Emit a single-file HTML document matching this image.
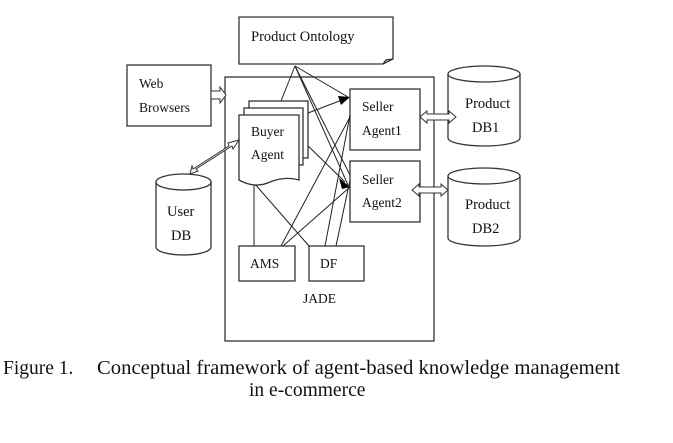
<!DOCTYPE html>
<html><head><style>
body{margin:0;background:#fff}
svg text{font-family:"Liberation Serif",serif;fill:#111}
</style></head><body>
<svg width="673" height="438" viewBox="0 0 673 438" xmlns="http://www.w3.org/2000/svg">
<g fill="#fff" stroke="#333" stroke-width="1.3">
<path d="M239,17 H393 V59 L383,64 H239 Z"/>
<path d="M383,64 L386,60 L393,59" fill="none"/>
<rect x="127" y="65" width="84" height="61"/>
<rect x="225" y="77" width="209" height="264"/>
<rect x="350" y="89" width="70" height="61"/>
<rect x="350" y="161" width="70" height="61"/>
<rect x="239" y="246" width="56" height="35"/>
<rect x="309" y="246" width="55" height="35"/>
</g>
<g stroke="#222" stroke-width="1" fill="none">
<line x1="295" y1="66" x2="281" y2="101"/>
<line x1="295" y1="66" x2="348" y2="97"/>
<line x1="295" y1="66" x2="348" y2="185"/>
<line x1="295" y1="66" x2="350" y2="175"/>
<line x1="308" y1="113" x2="342" y2="100"/>
<line x1="303" y1="141" x2="345" y2="182"/>
<line x1="281" y1="246" x2="350" y2="117"/>
<line x1="283" y1="246" x2="350" y2="187"/>
<line x1="325" y1="246" x2="350" y2="115"/>
<line x1="336" y1="246" x2="350" y2="180"/>
<line x1="254" y1="183" x2="254" y2="246"/>
<line x1="254" y1="183" x2="309" y2="246"/>
</g>
<g fill="#000">
<polygon points="350,97 338,96 341,105"/>
<polygon points="350,187 339,178 342,189"/>
</g>
<g fill="#fff" stroke="#333" stroke-width="1.3">
<rect x="249" y="101" width="59" height="57"/>
<rect x="244" y="108" width="59" height="57"/>
<path d="M239,115 H299 V180 Q285,176 270,182 Q255,189 239,180 Z"/>
</g>
<g fill="#fff" stroke="#333" stroke-width="1.3">
<path d="M448,74 V138 A36,8 0 0 0 520,138 V74"/>
<ellipse cx="484" cy="74" rx="36" ry="8"/>
<path d="M448,176 V238 A36,8 0 0 0 520,238 V176"/>
<ellipse cx="484" cy="176" rx="36" ry="8"/>
<path d="M156,182 V247 A27.5,8 0 0 0 211,247 V182"/>
<ellipse cx="183.5" cy="182" rx="27.5" ry="8"/>
</g>
<g fill="#fff" stroke="#333" stroke-width="1">
<path d="M211,91 H220 V87 L226,95 L220,103 V99 H211 Z"/>
<path d="M420,117 L427,111 V114 H449 V111 L456,117 L449,123 V120 H427 V123 Z"/>
<path d="M412,190 L419,184 V187 H441 V184 L448,190 L441,196 V193 H419 V196 Z"/>
<path d="M190,174 L192,166 L193,169 L229,146 L228,143 L239,140 L233,149 L232,146 L196,169 L198,171 Z"/>
</g>
<g font-size="13.5">
<text x="251" y="41" font-size="14.5">Product Ontology</text>
<text x="139" y="88">Web</text>
<text x="139" y="112">Browsers</text>
<text x="251" y="136">Buyer</text>
<text x="251" y="159">Agent</text>
<text x="362" y="111">Seller</text>
<text x="362" y="135">Agent1</text>
<text x="362" y="184">Seller</text>
<text x="362" y="207">Agent2</text>
<text x="465" y="108" font-size="14.5">Product</text>
<text x="472" y="132" font-size="14.5">DB1</text>
<text x="465" y="209" font-size="14.5">Product</text>
<text x="472" y="233" font-size="14.5">DB2</text>
<text x="167" y="216" font-size="14.5">User</text>
<text x="171" y="240" font-size="14.5">DB</text>
<text x="250" y="268">AMS</text>
<text x="320" y="268">DF</text>
<text x="303" y="303">JADE</text>
<text x="3" y="374" font-size="19.5">Figure 1.</text>
<text x="97" y="374" font-size="19.5" textLength="523" lengthAdjust="spacingAndGlyphs">Conceptual framework of agent-based knowledge management</text>
<text x="249" y="396" font-size="19.5">in e-commerce</text>
</g>
</svg>
</body></html>
